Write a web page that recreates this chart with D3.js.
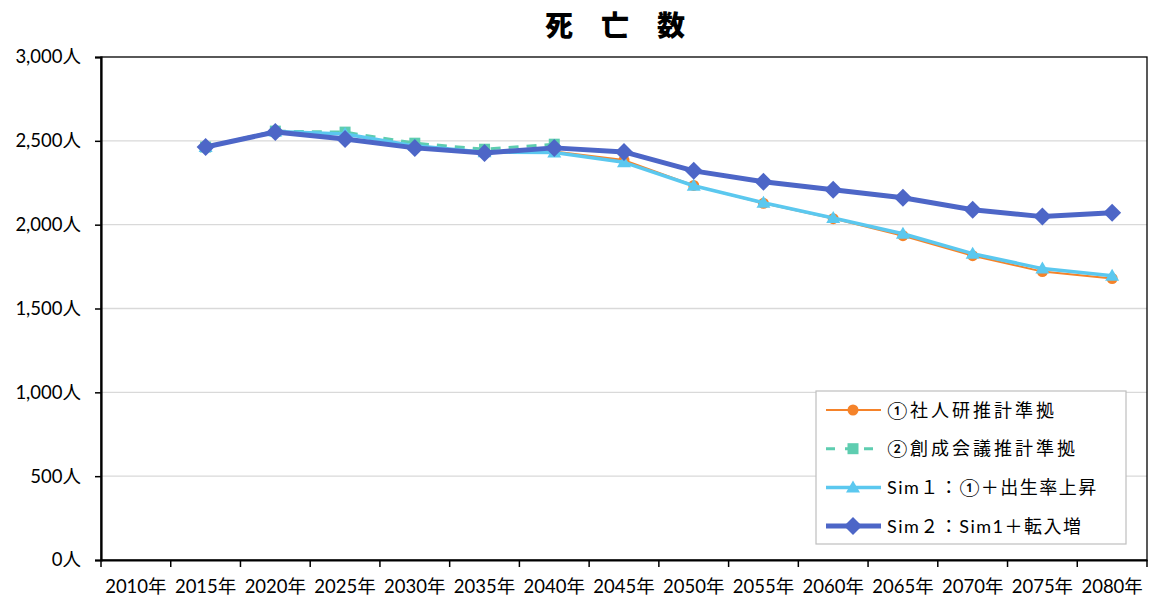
<!DOCTYPE html>
<html>
<head>
<meta charset="utf-8">
<script src="https://cdn.jsdelivr.net/npm/d3@7"></script>
<style>
  body { margin: 0; background: #fff; }
  text { font-family: Lato, "Noto Sans CJK JP", sans-serif; fill: #000; }
</style>
</head>
<body>
<svg id="chart" width="1151" height="600"></svg>
<script>
// categories and values
var years = ["2010年", "2015年", "2020年", "2025年", "2030年", "2035年", "2040年", "2045年",
             "2050年", "2055年", "2060年", "2065年", "2070年", "2075年", "2080年"];
var yTicks = [0, 500, 1000, 1500, 2000, 2500, 3000];
var shajinken = [null, 2463, 2556, 2540, 2470, 2434, 2436, 2385, 2234, 2127, 2036, 1934, 1815, 1720, 1679];
var sousei    = [null, 2463, 2558, 2552, 2486, 2450, 2480, null, null, null, null, null, null, null, null];
var sim1      = [null, 2463, 2556, 2541, 2470, 2432, 2430, 2372, 2232, 2131, 2040, 1946, 1827, 1738, 1696];
var sim2      = [null, 2463, 2553, 2511, 2458, 2428, 2458, 2434, 2321, 2256, 2208, 2161, 2089, 2048, 2071];
var seriesNames = ["①社人研推計準拠", "②創成会議推計準拠", "Sim１：①＋出生率上昇", "Sim２：Sim1＋転入増"];

var svg = d3.select("#chart");
var mLeft = 101, mRight = 1147, mTop = 57, mBottom = 560;

var x = d3.scaleBand().domain(years).range([mLeft, mRight]).padding(0);
var y = d3.scaleLinear().domain([0, 3000]).range([mBottom, mTop]);
var cx = function(i) { return x(years[i]) + x.bandwidth() / 2; };

// title
svg.append("text").attr("x", 615).attr("y", 36).attr("text-anchor", "middle")
  .style("font-family", "'Noto Sans CJK JP'").style("font-weight", 900).style("font-size", "28px")
  .text("死　亡　数");

// gridlines
svg.append("g").selectAll("line").data(yTicks.slice(1, -1)).enter().append("line")
  .attr("x1", mLeft).attr("x2", mRight).attr("y1", function(d) { return y(d); }).attr("y2", function(d) { return y(d); })
  .attr("stroke", "#d9d9d9").attr("stroke-width", 1.3);

// frame
svg.append("rect").attr("x", mLeft).attr("y", mTop).attr("width", mRight - mLeft).attr("height", mBottom - mTop)
  .attr("fill", "none").attr("stroke", "#000").attr("stroke-width", 1.3);

// y axis
var yAxis = d3.axisLeft(y).tickValues(yTicks).tickSize(6).tickPadding(14)
  .tickFormat(function(d) { return d3.format(",")(d) + "人"; });
var yg = svg.append("g").attr("transform", "translate(" + mLeft + ",0)").call(yAxis);
yg.select(".domain").attr("stroke-width", 2.2);
yg.selectAll(".tick line").attr("stroke-width", 1.5);
yg.selectAll("text").style("font-size", "18.5px");

// x axis
var xAxis = d3.axisBottom(x).tickSize(0).tickPadding(20);
var xg = svg.append("g").attr("transform", "translate(0," + mBottom + ")").call(xAxis);
xg.select(".domain").attr("stroke-width", 2.2);
xg.selectAll("text").style("font-size", "18.5px");
xg.selectAll("line.bt").data(years.concat(["end"])).enter().append("line").attr("class", "bt")
  .attr("x1", function(d, i) { return mLeft + i * x.bandwidth(); })
  .attr("x2", function(d, i) { return mLeft + i * x.bandwidth(); })
  .attr("y1", 0).attr("y2", 7).attr("stroke", "#000").attr("stroke-width", 1.5);

var line = d3.line().defined(function(d) { return d != null; })
  .x(function(d, i) { return cx(i); }).y(function(d) { return y(d); });

var specs = [
  { data: shajinken, color: "#f5832a", width: 2, dash: null, marker: "circle" },
  { data: sousei, color: "#5ecdb0", width: 3, dash: "10,8", marker: "square" },
  { data: sim1, color: "#5bc8ef", width: 3.5, dash: null, marker: "triangle" },
  { data: sim2, color: "#4d66c7", width: 5, dash: null, marker: "diamond" }
];

function drawMarker(g, type, color, px, py) {
  if (type === "circle") g.append("circle").attr("cx", px).attr("cy", py).attr("r", 5.5).attr("fill", color);
  else if (type === "square") g.append("rect").attr("x", px - 5.5).attr("y", py - 5.5).attr("width", 11).attr("height", 11).attr("fill", color);
  else if (type === "triangle") g.append("path").attr("d", "M" + px + "," + (py - 7) + "L" + (px + 7) + "," + (py + 5) + "L" + (px - 7) + "," + (py + 5) + "Z").attr("fill", color);
  else g.append("path").attr("d", "M" + px + "," + (py - 9) + "L" + (px + 9) + "," + py + "L" + px + "," + (py + 9) + "L" + (px - 9) + "," + py + "Z").attr("fill", color);
}

specs.forEach(function(s) {
  var g = svg.append("g");
  g.append("path").datum(s.data).attr("d", line).attr("fill", "none")
    .attr("stroke", s.color).attr("stroke-width", s.width).attr("stroke-dasharray", s.dash)
    .attr("stroke-linejoin", "round");
  s.data.forEach(function(v, i) {
    if (v != null) drawMarker(g, s.marker, s.color, cx(i), y(v));
  });
});

// legend
var lg = svg.append("g");
lg.append("rect").attr("x", 816).attr("y", 391).attr("width", 310).attr("height", 153)
  .attr("fill", "#fff").attr("stroke", "#bfbfbf").attr("stroke-width", 1.2);
specs.forEach(function(s, i) {
  var ly = 410 + i * 38.7;
  lg.append("line").attr("x1", 826).attr("x2", 881).attr("y1", ly).attr("y2", ly)
    .attr("stroke", s.color).attr("stroke-width", s.width).attr("stroke-dasharray", s.dash ? "9,10" : null);
  drawMarker(lg, s.marker, s.color, 853, ly);
  lg.append("text").attr("x", 887).attr("y", ly + 6.5).style("font-size", "18px")
    .style("letter-spacing", i < 2 ? "3px" : "1.5px").text(seriesNames[i]);
});
</script>
</body>
</html>
